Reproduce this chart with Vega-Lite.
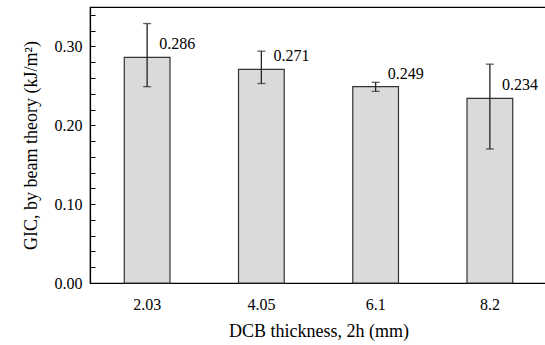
{
  "$schema": "https://vega.github.io/schema/vega-lite/v6.json",
  "autosize": "none",
  "width": 457,
  "height": 276,
  "padding": {"left": 90, "top": 7, "right": 0, "bottom": 62},
  "background": "white",
  "config": {
    "font": "Liberation Serif",
    "view": {"stroke": "black", "strokeWidth": 1.2},
    "axis": {"domainColor": "black", "tickColor": "black", "labelColor": "black", "titleColor": "black", "labelFont": "Liberation Serif", "titleFont": "Liberation Serif", "titleFontWeight": "normal", "grid": false}
  },
  "data": {"values": [
    {"t": "2.03", "g": 0.286, "lo": 0.249, "hi": 0.329, "label": "0.286"},
    {"t": "4.05", "g": 0.271, "lo": 0.253, "hi": 0.294, "label": "0.271"},
    {"t": "6.1", "g": 0.249, "lo": 0.243, "hi": 0.2545, "label": "0.249"},
    {"t": "8.2", "g": 0.234, "lo": 0.170, "hi": 0.2775, "label": "0.234"}
  ]},
  "encoding": {
    "x": {"field": "t", "type": "ordinal", "sort": null,
      "scale": {"paddingInner": 0.6, "paddingOuter": 0.3},
      "axis": {"title": "DCB thickness, 2h (mm)", "labelAngle": 0, "ticks": false, "labelFontSize": 16, "titleFontSize": 18, "labelPadding": 13, "titlePadding": 10, "domainWidth": 1.2}}
  },
  "layer": [
    {
      "mark": {"type": "bar", "fill": "#d9dadc", "stroke": "#333333", "strokeWidth": 1.2},
      "encoding": {
        "y": {"field": "g", "type": "quantitative",
          "scale": {"domain": [0, 0.35], "nice": false, "zero": true},
          "axis": {"title": "GIC, by beam theory (kJ/m²)", "values": [0, 0.02, 0.04, 0.06, 0.08, 0.1, 0.12, 0.14, 0.16, 0.18, 0.2, 0.22, 0.24, 0.26, 0.28, 0.3, 0.32, 0.34],
            "tickCount": 100,
            "labelExpr": "abs(datum.value*10 - round(datum.value*10)) < 0.001 ? format(datum.value, '.2f') : ''",
            "labelOverlap": false, "labelBound": false, "labelFlush": false,
            "tickSize": -5, "labelPadding": 13, "labelFontSize": 16, "titleFontSize": 18, "titlePadding": 14, "domainWidth": 1.2}}
      }
    },
    {
      "mark": {"type": "rule", "color": "#222222", "strokeWidth": 1.3},
      "encoding": {"y": {"field": "lo", "type": "quantitative"}, "y2": {"field": "hi"}}
    },
    {
      "mark": {"type": "tick", "color": "#222222", "size": 8, "thickness": 1.3},
      "encoding": {"y": {"field": "lo", "type": "quantitative"}}
    },
    {
      "mark": {"type": "tick", "color": "#222222", "size": 8, "thickness": 1.3},
      "encoding": {"y": {"field": "hi", "type": "quantitative"}}
    },
    {
      "mark": {"type": "text", "align": "left", "baseline": "middle", "dx": 12, "dy": -13, "fontSize": 16, "font": "Liberation Serif", "color": "black"},
      "encoding": {"y": {"field": "g", "type": "quantitative"}, "text": {"field": "label"}}
    }
  ]
}
